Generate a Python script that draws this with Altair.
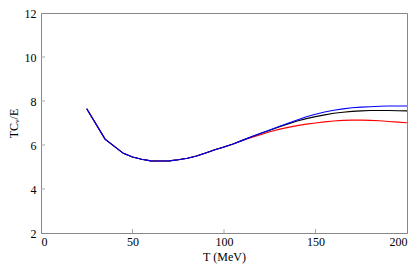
import altair as alt
import pandas as pd

common_T = [25, 35, 45, 50, 55, 60, 65, 70, 75, 80, 85, 90, 95, 100, 105]
common_v = [7.65, 6.27, 5.62, 5.45, 5.35, 5.28, 5.27, 5.28, 5.33, 5.40, 5.50, 5.64, 5.78, 5.91, 6.05]

tail_T = [110, 115, 120, 125, 130, 135, 140, 145, 150, 155, 160, 165, 170, 175, 180, 185, 190, 195, 200]
blue_v = [6.21, 6.37, 6.53, 6.68, 6.84, 6.99, 7.14, 7.28, 7.40, 7.50, 7.58, 7.64, 7.69, 7.72, 7.74, 7.76, 7.77, 7.77, 7.77]
black_v = [6.21, 6.37, 6.52, 6.67, 6.82, 6.96, 7.09, 7.20, 7.29, 7.37, 7.44, 7.49, 7.53, 7.55, 7.57, 7.57, 7.57, 7.56, 7.55]
red_v = [6.20, 6.34, 6.47, 6.60, 6.71, 6.80, 6.88, 6.95, 7.00, 7.05, 7.09, 7.12, 7.13, 7.13, 7.12, 7.10, 7.07, 7.04, 7.01]

x_ticks = [0, 50, 100, 150, 200]
y_ticks = [2, 4, 6, 8, 10, 12]

def series(vals):
    return pd.DataFrame({"T": common_T + tail_T, "v": common_v + vals})

xs = alt.Scale(domain=[0, 200], nice=False)
ys = alt.Scale(domain=[2, 12], nice=False)
FONT = "'Liberation Serif', 'Times New Roman', 'DejaVu Serif', serif"

def line(vals, color, with_axes=False):
    if with_axes:
        x = alt.X("T:Q", scale=xs, title="T (MeV)",
                  axis=alt.Axis(values=x_ticks, ticks=False, grid=False, labelPadding=3,
                                titlePadding=4, labelFont=FONT, titleFont=FONT))
        y = alt.Y("v:Q", scale=ys, title="TCᵥ/E",
                  axis=alt.Axis(values=y_ticks, ticks=False, grid=False, labelPadding=5,
                                titlePadding=4, labelFont=FONT, titleFont=FONT))
    else:
        x = alt.X("T:Q", scale=xs)
        y = alt.Y("v:Q", scale=ys)
    return alt.Chart(series(vals)).mark_line(color=color, strokeWidth=1.1).encode(x=x, y=y)

xt = alt.Chart(pd.DataFrame({"t": x_ticks[1:-1]})).mark_rule(color="#aaaaaa", strokeWidth=1).encode(
    x=alt.X("t:Q", scale=xs), y=alt.value(220), y2=alt.value(216))
yt = alt.Chart(pd.DataFrame({"t": y_ticks[1:-1]})).mark_rule(color="#aaaaaa", strokeWidth=1).encode(
    y=alt.Y("t:Q", scale=ys), x=alt.value(0), x2=alt.value(4))

chart = alt.layer(
    line(red_v, "#ff0000", True),
    line(black_v, "#000000"),
    line(blue_v, "#0000ff"),
    xt, yt,
).properties(
    width=366, height=220,
    autosize=alt.AutoSizeParams(type="none"),
    padding={"left": 33, "top": 5, "right": 2, "bottom": 38},
).configure(font=FONT).configure_view(stroke="#888888", strokeWidth=1).configure_axis(
    domainColor="#888888", labelFontSize=12, titleFontSize=12,
    labelColor="#000000", titleColor="#000000", titleFontWeight="normal",
)

chart.save("out.html", embed_options={"renderer": "svg", "actions": False})
